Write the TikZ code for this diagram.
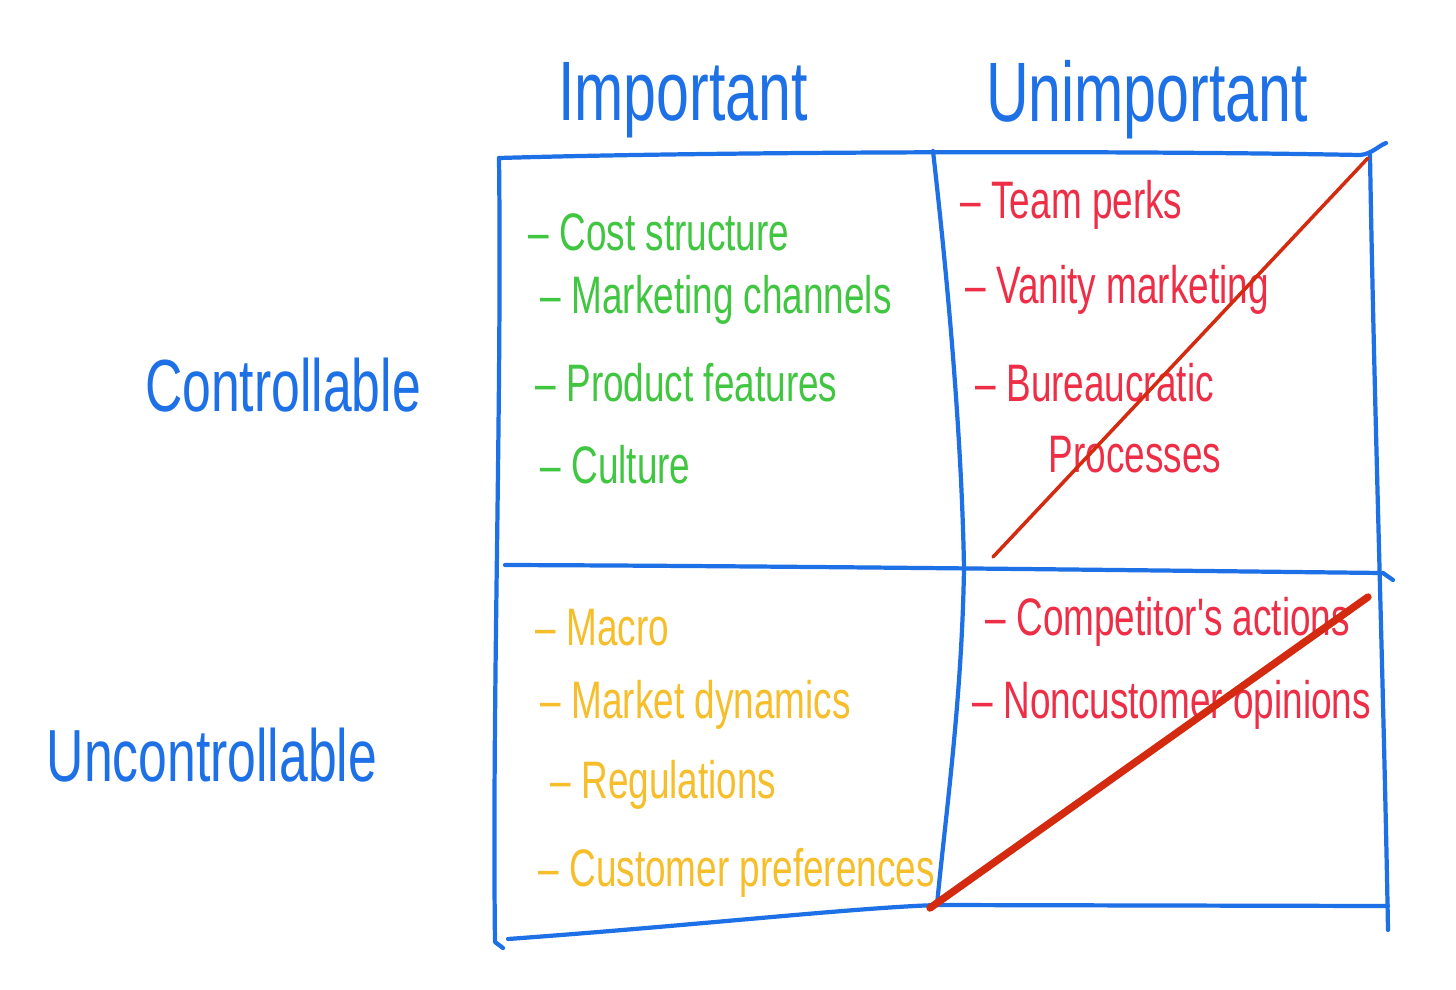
\documentclass[tikz,border=0pt]{standalone}
\usepackage{fontspec}
\newfontfamily\hand[FakeStretch=0.7]{Liberation Sans}
\definecolor{gblue}{HTML}{1E70E6}
\definecolor{ggreen}{HTML}{40C640}
\definecolor{gred}{HTML}{EE2E46}
\definecolor{gyellow}{HTML}{F6BE2A}
\definecolor{strike}{HTML}{D42A10}
\begin{document}
\begin{tikzpicture}[x=0.01cm,y=-0.01cm,
  gridline/.style={gblue, line width=1.2pt, line cap=round, line join=round},
  strikeline/.style={strike, line cap=round},
  item/.style={anchor=west, inner sep=0pt, font=\hand\fontsize{15}{18}\selectfont},
  head/.style={inner sep=0pt, text=gblue, font=\hand\fontsize{24}{28}\selectfont},
  rowhead/.style={inner sep=0pt, text=gblue, font=\hand\fontsize{21}{25}\selectfont}]
\useasboundingbox (0,0) rectangle (1456,990);
\fill[white] (0,0) rectangle (1456,990);

% grid corners
\coordinate (tl) at (499,158);
\coordinate (tm) at (933,151);
\coordinate (tr) at (1386,143);
\coordinate (ml) at (505,565);
\coordinate (mm) at (964,568);
\coordinate (mr) at (1393,580);
\coordinate (bl) at (508,939);
\coordinate (bm) at (937,905);
\coordinate (br) at (1388,906);

% horizontal lines
\draw[gridline] (tl) .. controls (700,152) and (1100,150) .. (1360,155) .. controls (1372,154) and (1378,146) .. (tr);
\draw[gridline] (ml) .. controls (800,566) and (1200,571) .. (1383,573) -- (mr);
\draw[gridline] (bl) .. controls (700,925) and (850,908) .. (bm) -- (br);
% vertical lines
\draw[gridline] (tl) .. controls (502,400) and (492,700) .. (495,942) -- (503,948);
\draw[gridline] (tm) .. controls (950,300) and (962,450) .. (mm) .. controls (962,700) and (945,820) .. (bm);
\draw[gridline] (1370,155) .. controls (1374,400) and (1384,700) .. (1388,930);

% headers
\node[head] (imp) at (683,100) {Important};
\node[head] (unimp) at (1147,100) {Unimportant};
\node[rowhead] (ctrl) at (283,385) {Controllable};
\node[rowhead] (unctrl) at (212,755) {Uncontrollable};

% top-left: green
\node[item, text=ggreen] (c1) at (528,232) {– Cost structure};
\node[item, text=ggreen] (c2) at (540,300) {– Marketing channels};
\node[item, text=ggreen] (c3) at (535,383) {– Product features};
\node[item, text=ggreen] (c4) at (540,465) {– Culture};

% top-right: red
\node[item, text=gred] (r1) at (960,205) {– Team perks};
\node[item, text=gred] (r2) at (965,290) {– Vanity marketing};
\node[item, text=gred] (r3) at (975,383) {– Bureaucratic};
\node[item, text=gred] (r4) at (1048,455) {Processes};

% bottom-left: yellow
\node[item, text=gyellow] (y1) at (535,628) {– Macro};
\node[item, text=gyellow] (y2) at (540,705) {– Market dynamics};
\node[item, text=gyellow] (y3) at (550,785) {– Regulations};
\node[item, text=gyellow] (y4) at (538,873) {– Customer preferences};

% bottom-right: red
\node[item, text=gred] (s1) at (985,622) {– Competitor's actions};
\node[item, text=gred] (s2) at (972,705) {– Noncustomer opinions};

% strike-through lines
\draw[strikeline, line width=1pt] (993,557) -- (1368,158);
\draw[strikeline, line width=2.1pt] (930,908) -- (1368,597);
\end{tikzpicture}
\end{document}
